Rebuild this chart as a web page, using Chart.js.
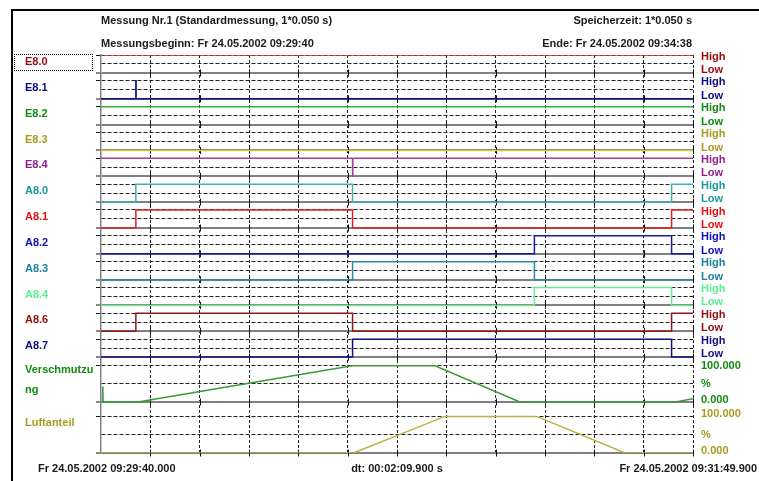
<!DOCTYPE html>
<html><head><meta charset="utf-8">
<script src="https://cdn.jsdelivr.net/npm/chart.js@4.4.1/dist/chart.umd.min.js"></script>
<style>
html,body{margin:0;padding:0;background:#fff;}
#wrap{position:relative;width:759px;height:481px;overflow:hidden;font-family:"Liberation Sans",Arial,sans-serif;font-weight:bold;font-size:11px;color:#1a1a1a;}
canvas{position:absolute;left:0;top:0;}
.t{position:absolute;white-space:nowrap;line-height:13px;}
#frame{position:absolute;left:11px;top:9px;width:760px;height:480px;border-left:2px solid #000;border-top:2px solid #000;}
#focus{position:absolute;left:14px;top:54px;width:77px;height:15px;border:1px dotted #000;}
</style></head><body>
<div id="wrap">
<div id="frame"></div>
<div id="focus"></div>
<canvas id="c" width="759" height="481"></canvas>
<div class="t" style="left:101px;top:14px">Messung Nr.1 (Standardmessung, 1*0.050 s)</div>
<div class="t" style="left:101px;top:37px">Messungsbeginn: Fr 24.05.2002 09:29:40</div>
<div class="t" style="right:67px;top:14px">Speicherzeit: 1*0.050 s</div>
<div class="t" style="right:67px;top:37px">Ende: Fr 24.05.2002 09:34:38</div>
<div class="t" style="left:38px;top:462px">Fr 24.05.2002 09:29:40.000</div>
<div class="t" style="left:397px;top:462px;transform:translateX(-50%)">dt: 00:02:09.900 s</div>
<div class="t" style="right:2px;top:462px">Fr 24.05.2002 09:31:49.900</div>
</div>
<script>
// ---------- data ----------
const timeStart = 0;
const timeEnd = 129.9;           // seconds (dt 00:02:09.900)
const gridDivisions = 12;

const channelNames = ['E8.0','E8.1','E8.2','E8.3','E8.4','A8.0','A8.1','A8.2','A8.3','A8.4','A8.6','A8.7'];
const analogNames = [['Verschmutzu','ng'], 'Luftanteil'];
const analogTopLabels = ['100.000', '100.000'];
const analogMidLabels = ['%', '%'];
const analogBottomLabels = ['0.000', '0.000'];
const highLabel = 'High';
const lowLabel = 'Low';

const e80Times = [0, 129.9];                     const e80States = [1, 1];
const e81Times = [0, 7.65, 7.7, 129.9];          const e81States = [0, 1, 0, 0];
const e82Times = [0, 129.9];                     const e82States = [1, 1];
const e83Times = [0, 129.9];                     const e83States = [0, 0];
const e84Times = [0, 55.2, 55.25, 129.9];        const e84States = [1, 0, 1, 1];
const a80Times = [0, 7.65, 55.2, 125.2, 129.9];  const a80States = [0, 1, 0, 1, 1];
const a81Times = [0, 7.65, 55.2, 125.2, 129.9];  const a81States = [0, 1, 0, 1, 1];
const a82Times = [0, 95.1, 125.2, 129.9];        const a82States = [0, 1, 0, 0];
const a83Times = [0, 55.2, 95.1, 129.9];         const a83States = [0, 1, 0, 0];
const a84Times = [0, 95.1, 125.2, 129.9];        const a84States = [0, 1, 0, 0];
const a86Times = [0, 7.65, 55.2, 125.2, 129.9];  const a86States = [0, 1, 0, 1, 1];
const a87Times = [0, 55.2, 125.2, 129.9];        const a87States = [0, 1, 0, 0];

const verschTimes  = [0, 0.35, 0.4, 0.45, 8.1, 55.1, 73.3, 91.9, 126.0, 129.9];
const verschValues = [0, 0, 43, 0, 0, 100, 100, 0, 0, 9];
const luftTimes  = [0, 55.4, 75.5, 95.6, 115.0, 129.9];
const luftValues = [0, 0, 100, 100, 0, 0];

// ---------- style / layout ----------
const labelColors = ['#9b0a0a','#0a0a80','#108c10','#a89a20','#902090','#1a9a9a','#e81010','#1010c0','#1a7fa0','#5af090','#901010','#101080'];
const lineColors  = ['#d03030','#101080','#30b030','#d8c840','#a040a0','#40b0b0','#e02020','#1818a0','#2a8aa0','#70e890','#901818','#101080'];
const analogLabelColors = ['#108c10','#a89a20'];
const analogLineColors  = ['#3a9a3a','#b8b040'];

const rowPitch = 25.85, digHeight = 18;
const anaTops = [311, 361.7], anaHeights = [36.3, 36.6];
const yMax = 398.3;

const digital = [
  [e80Times,e80States],[e81Times,e81States],[e82Times,e82States],[e83Times,e83States],
  [e84Times,e84States],[a80Times,a80States],[a81Times,a81States],[a82Times,a82States],
  [a83Times,a83States],[a84Times,a84States],[a86Times,a86States],[a87Times,a87States]
];
const analog = [[verschTimes, verschValues],[luftTimes, luftValues]];

const rowTop = k => k * rowPitch;
const datasets = [];
digital.forEach(([ts, ss], k) => {
  datasets.push({
    data: ts.map((t, i) => ({x: t, y: rowTop(k) + (1 - ss[i]) * digHeight})),
    borderColor: lineColors[k], borderWidth: 1.5, pointRadius: 0, stepped: true, yAxisID: 'yg'
  });
});
analog.forEach(([ts, vs], k) => {
  datasets.push({
    data: ts.map((t, i) => ({x: t, y: anaTops[k] + (1 - vs[i] / 100) * anaHeights[k]})),
    borderColor: analogLineColors[k], borderWidth: 1.5, pointRadius: 0, tension: 0, yAxisID: 'yg'
  });
});

// grid lines (value, kind)
const gridVals = [], gridKinds = [];
channelNames.forEach((n, k) => {
  gridVals.push(rowTop(k), rowTop(k) + digHeight / 2, rowTop(k) + digHeight);
  gridKinds.push('top', 'mid', 'solid');
});
anaTops.forEach((t, k) => {
  gridVals.push(t, t + anaHeights[k] / 2, t + anaHeights[k]);
  gridKinds.push('top', 'mid', 'solid');
});
const solidVals = gridVals.filter((v, i) => gridKinds[i] === 'solid');

// left labels
const leftVals = [], leftLabels = [], leftColors = [];
channelNames.forEach((n, k) => { leftVals.push(rowTop(k) + 7); leftLabels.push(n); leftColors.push(labelColors[k]); });
leftVals.push(anaTops[0] + 14.5); leftLabels.push(analogNames[0]); leftColors.push(analogLabelColors[0]);
leftVals.push(anaTops[1] + 7);  leftLabels.push(analogNames[1]); leftColors.push(analogLabelColors[1]);

// right labels
const rightVals = [], rightLabels = [], rightColors = [];
channelNames.forEach((n, k) => {
  rightVals.push(rowTop(k) + 1.5, rowTop(k) + digHeight - 3);
  rightLabels.push(highLabel, lowLabel);
  rightColors.push(labelColors[k], labelColors[k]);
});
anaTops.forEach((t, k) => {
  rightVals.push(t - (k ? 2.5 : 0), t + anaHeights[k] / 2, t + anaHeights[k] - 2);
  rightLabels.push(analogTopLabels[k], analogMidLabels[k], analogBottomLabels[k]);
  rightColors.push(analogLabelColors[k], analogLabelColors[k], analogLabelColors[k]);
});

const FONT = {family: '"Liberation Sans", Arial, sans-serif', size: 11, weight: 'bold'};

const crossTicks = {
  id: 'crossTicks',
  beforeDatasetsDraw(chart) {
    const {ctx, scales} = chart;
    const x = scales.x, y = scales.yg;
    ctx.save();
    ctx.strokeStyle = '#111'; ctx.lineWidth = 1;
    x.ticks.forEach(t => {
      if (t.value === timeStart) return;
      const px = Math.round(x.getPixelForValue(t.value)) + 0.5;
      solidVals.forEach(v => {
        const py = y.getPixelForValue(v);
        ctx.beginPath(); ctx.moveTo(px, py - 3.5); ctx.lineTo(px, py + 3.5); ctx.stroke();
      });
    });
    ctx.restore();
  }
};

const yBase = {type: 'linear', min: 0, max: yMax, reverse: true};

new Chart(document.getElementById('c'), {
  type: 'line',
  data: {datasets},
  plugins: [crossTicks],
  options: {
    responsive: false, animation: false, events: [],
    layout: {padding: {left: 25, top: 55, right: 0, bottom: 28}},
    plugins: {legend: {display: false}, tooltip: {enabled: false}, title: {display: false}},
    scales: {
      x: {
        type: 'linear', min: timeStart, max: timeEnd, position: 'bottom',
        afterBuildTicks: s => {
          const arr = [];
          for (let i = 0; i <= gridDivisions; i++) arr.push({value: timeStart + (timeEnd - timeStart) * i / gridDivisions});
          s.ticks = arr;
        },
        ticks: {display: false},
        grid: {drawTicks: false, lineWidth: 1, color: c => (c.tick && c.tick.value === timeStart) ? 'rgba(0,0,0,0)' : '#222'},
        border: {display: false, dash: [3, 2]}
      },
      yg: Object.assign({}, yBase, {
        position: 'left',
        afterBuildTicks: s => { s.ticks = gridVals.map(v => ({value: v})); },
        afterFit: s => { s.width = 5; },
        ticks: {display: false},
        grid: {
          drawTicks: true, tickLength: 5, tickWidth: 1,
          color: c => gridKinds[c.index] === 'solid' ? '#808080' : '#222',
          lineWidth: c => gridKinds[c.index] === 'solid' ? 2 : 1,
          tickColor: c => gridKinds[c.index] === 'mid' ? 'rgba(0,0,0,0)' : '#111'
        },
        border: {display: true, color: '#808080', width: 1.5,
                 dash: c => (c.index !== undefined && gridKinds[c.index] !== 'solid') ? [4, 2] : []}
      }),
      yl: Object.assign({}, yBase, {
        position: 'left',
        afterBuildTicks: s => { s.ticks = leftVals.map(v => ({value: v})); },
        afterFit: s => { s.width = 71; },
        ticks: {autoSkip: false, crossAlign: 'far', font: Object.assign({lineHeight: 1.8}, FONT),
                color: c => leftColors[c.index], callback: (v, i) => leftLabels[i]},
        grid: {display: false},
        border: {display: false}
      }),
      yr: Object.assign({}, yBase, {
        position: 'right',
        afterBuildTicks: s => { s.ticks = rightVals.map(v => ({value: v})); },
        afterFit: s => { s.width = 66; },
        ticks: {autoSkip: false, padding: 8, font: FONT,
                color: c => rightColors[c.index], callback: (v, i) => rightLabels[i]},
        grid: {display: false, drawTicks: false},
        border: {display: false}
      })
    }
  }
});
</script>
</body></html>
